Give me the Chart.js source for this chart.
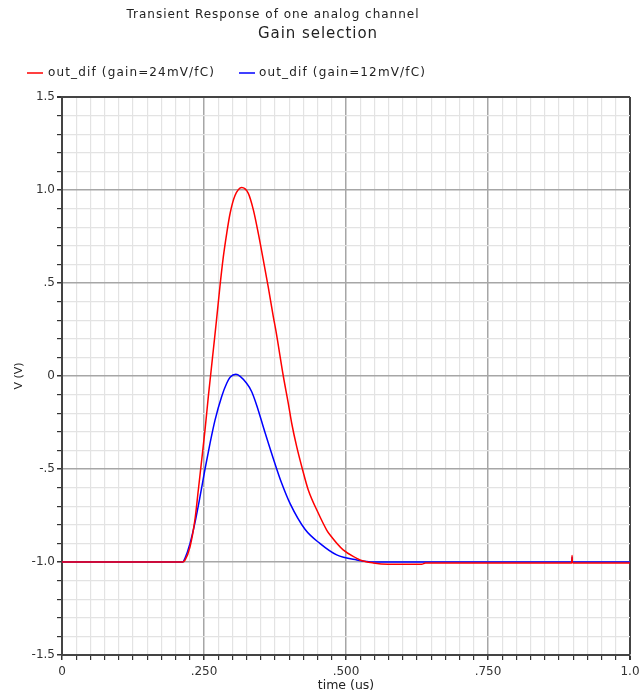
<!DOCTYPE html>
<html>
<head>
<meta charset="utf-8">
<title>Gain selection</title>
<script src="https://cdn.jsdelivr.net/npm/chart.js@4.4.1/dist/chart.umd.min.js"></script>
<style>
  body { margin: 0; background: #fff; }
</style>
</head>
<body>
<canvas id="gainChart" width="639" height="696"></canvas>
<script>
// curves, time in us, voltage in V
const redTime = [0, 0.2, 0.2125, 0.2166, 0.2254, 0.234, 0.24, 0.246, 0.2518, 0.2576, 0.2615, 0.2664, 0.272, 0.278, 0.284, 0.29, 0.296, 0.3046, 0.3164, 0.328, 0.337, 0.3456, 0.3544, 0.363, 0.372, 0.3768, 0.3896, 0.3984, 0.4044, 0.4132, 0.4232, 0.4336, 0.4513, 0.466, 0.472, 0.495, 0.519, 0.5246, 0.548, 0.574, 0.633, 0.64, 0.8975, 0.898, 0.8985, 0.9, 1.0];
const redV = [-1, -1, -1, -0.99, -0.918, -0.774, -0.613, -0.45, -0.29, -0.111, 0, 0.14, 0.3, 0.48, 0.64, 0.767, 0.875, 0.97, 1.014, 0.982, 0.892, 0.767, 0.624, 0.48, 0.319, 0.24, 0, -0.147, -0.254, -0.38, -0.5, -0.613, -0.738, -0.828, -0.855, -0.935, -0.98, -0.989, -1.005, -1.012, -1.012, -1.005, -1.005, -0.965, -1.0, -1.005, -1.005];

const blueTime = [0, 0.2, 0.2125, 0.2165, 0.2254, 0.234, 0.243, 0.2518, 0.2606, 0.2694, 0.281, 0.29, 0.296, 0.306, 0.325, 0.334, 0.343, 0.357, 0.378, 0.3868, 0.4014, 0.4278, 0.454, 0.4836, 0.519, 0.55, 0.8975, 0.898, 0.8985, 0.9, 1.0];
const blueV = [-1, -1, -1, -0.98, -0.9, -0.79, -0.649, -0.5, -0.362, -0.237, -0.111, -0.039, -0.007, 0.009, -0.039, -0.085, -0.16, -0.3, -0.5, -0.577, -0.685, -0.824, -0.9, -0.962, -0.989, -1.0, -1.0, -0.975, -0.998, -1, -1];

const seriesNames = ["out_dif (gain=24mV/fC)", "out_dif (gain=12mV/fC)"];

const yTickValues = [-1.5, -1, -0.5, 0, 0.5, 1, 1.5];
const yTickLabels = ["-1.5", "-1.0", "-.5", "0", ".5", "1.0", "1.5"];
const xTickValues = [0, 0.25, 0.5, 0.75, 1];
const xTickLabels = ["0", ".250", ".500", ".750", "1.0"];

const FONT = "'DejaVu Sans', sans-serif";

function toPoints(xs, ys) {
    return xs.map((x, i) => ({ x: x, y: ys[i] }));
}

function findLabel(values, labels, v) {
    const i = values.findIndex((t) => Math.abs(t - v) < 1e-6);
    return i >= 0 ? labels[i] : "";
}

function isMajor(values, v) {
    return values.some((t) => Math.abs(t - v) < 1e-6);
}

// draw text stretched to a given width with letter spacing
function drawFit(ctx, text, x, y, width, font) {
    ctx.font = font;
    ctx.letterSpacing = "0px";
    const w = ctx.measureText(text).width;
    const sp = (width - w) / text.length;
    ctx.letterSpacing = sp + "px";
    ctx.textAlign = "left";
    ctx.fillText(text, x - width / 2, y);
    ctx.letterSpacing = "0px";
}

const decorPlugin = {
    id: "decor",
    beforeDraw(chart) {
        const ctx = chart.ctx;
        ctx.save();
        ctx.fillStyle = "#fff";
        ctx.fillRect(0, 0, chart.width, chart.height);
        ctx.restore();
    },
    afterDraw(chart) {
        const ctx = chart.ctx;
        ctx.save();
        ctx.fillStyle = "#222";
        ctx.textBaseline = "middle";
        drawFit(ctx, "Transient Response of one analog channel", 273, 15, 293, "12px " + FONT);
        drawFit(ctx, "Gain selection", 318, 34, 120, "15px " + FONT);

        // legend
        const items = [
            { x: 27, textX: 48, width: 167 },
            { x: 239, textX: 259, width: 167 },
        ];
        chart.data.datasets.forEach((ds, i) => {
            const it = items[i];
            ctx.strokeStyle = ds.borderColor;
            ctx.lineWidth = 1.5;
            ctx.beginPath();
            ctx.moveTo(it.x, 73);
            ctx.lineTo(it.x + 16, 73);
            ctx.stroke();
            ctx.fillStyle = "#222";
            drawFit(ctx, ds.label, it.textX + it.width / 2, 73, it.width, "12px " + FONT);
        });
        ctx.restore();
    },
};

const ctx = document.getElementById("gainChart").getContext("2d");

new Chart(ctx, {
    type: "line",
    data: {
        datasets: [
            {
                label: seriesNames[0],
                data: toPoints(redTime, redV),
                borderColor: "#ff0000",
                borderWidth: 1.5,
                pointRadius: 0,
                cubicInterpolationMode: "monotone",
                fill: false,
            },
            {
                label: seriesNames[1],
                data: toPoints(blueTime, blueV),
                borderColor: "#0000ff",
                borderWidth: 1.5,
                pointRadius: 0,
                cubicInterpolationMode: "monotone",
                fill: false,
            },
        ],
    },
    options: {
        responsive: false,
        animation: false,
        devicePixelRatio: 1,
        layout: {
            padding: { top: 97, right: 9, bottom: 0, left: 0 },
        },
        plugins: {
            legend: { display: false },
            title: { display: false },
            tooltip: { enabled: false },
        },
        scales: {
            x: {
                type: "linear",
                min: 0,
                max: 1,
                afterFit(scale) {
                    scale.height = 41;
                    scale.paddingLeft = 0;
                    scale.paddingRight = 0;
                },
                ticks: {
                    stepSize: 0.025,
                    autoSkip: false,
                    maxRotation: 0,
                    padding: 5,
                    color: "#333",
                    font: { family: FONT, size: 12 },
                    callback: (v) => findLabel(xTickValues, xTickLabels, v),
                },
                grid: {
                    tickLength: 5,
                    tickColor: "#333",
                    color: (c) => {
                        const v = c.tick.value;
                        if (Math.abs(v - 1) < 1e-6) return "#444";
                        return isMajor(xTickValues, v) ? "#a6a6a6" : "#e3e3e3";
                    },
                    lineWidth: (c) => {
                        const v = c.tick.value;
                        if (Math.abs(v - 1) < 1e-6) return 2;
                        return isMajor(xTickValues, v) ? 1.5 : 1.2;
                    },
                },
                border: { color: "#444", width: 2 },
                title: {
                    display: true,
                    text: "time (us)",
                    color: "#222",
                    font: { family: FONT, size: 12.5 },
                    padding: { top: 0, bottom: 3 },
                },
            },
            y: {
                min: -1.5,
                max: 1.5,
                afterFit(scale) {
                    scale.width = 62;
                },
                ticks: {
                    stepSize: 0.1,
                    autoSkip: false,
                    padding: 2,
                    color: "#333",
                    font: { family: FONT, size: 12 },
                    callback: (v) => findLabel(yTickValues, yTickLabels, v),
                },
                grid: {
                    tickLength: 5,
                    tickColor: "#333",
                    color: (c) => {
                        const v = c.tick.value;
                        if (Math.abs(v - 1.5) < 1e-6) return "#444";
                        return isMajor(yTickValues, v) ? "#a6a6a6" : "#e3e3e3";
                    },
                    lineWidth: (c) => {
                        const v = c.tick.value;
                        if (Math.abs(v - 1.5) < 1e-6) return 2;
                        return isMajor(yTickValues, v) ? 1.5 : 1.2;
                    },
                },
                border: { color: "#444", width: 2 },
                title: {
                    display: true,
                    text: "V (V)",
                    color: "#222",
                    font: { family: FONT, size: 11 },
                    padding: { top: 13, bottom: 0 },
                },
            },
        },
    },
    plugins: [decorPlugin],
});
</script>
</body>
</html>
